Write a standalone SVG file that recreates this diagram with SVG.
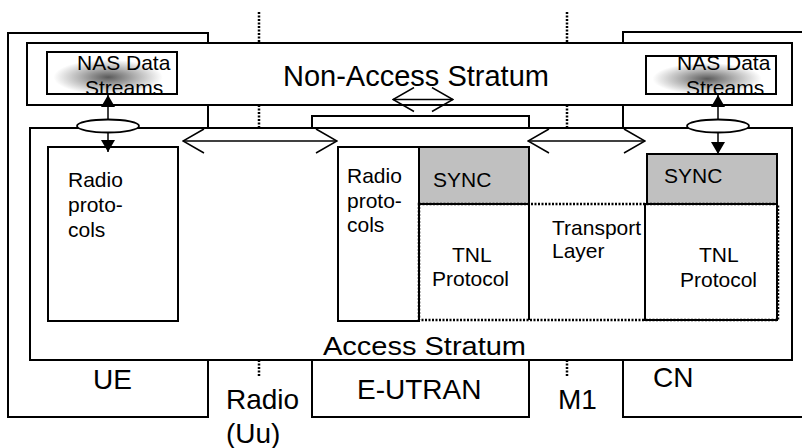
<svg xmlns="http://www.w3.org/2000/svg" width="802" height="448" viewBox="0 0 802 448">
<defs>
<style>
.box{fill:#fff;stroke:#000;stroke-width:2}
.out{fill:none;stroke:#000;stroke-width:2}
.grey{fill:#c0c0c0;stroke:#000;stroke-width:2}
.dot{fill:none;stroke:#000;stroke-width:2.5;stroke-dasharray:2,1.5}
.ln{fill:none;stroke:#000;stroke-width:1.5}
text{font-family:"Liberation Sans",Arial,sans-serif;fill:#000}
.t28{font-size:28px}
.t21{font-size:21px}
</style>
<radialGradient id="nasgrad" cx="0.47" cy="0.6" r="0.42">
<stop offset="0" stop-color="#5a5a5a"/>
<stop offset="0.5" stop-color="#b0b0b0"/>
<stop offset="1" stop-color="#fff"/>
</radialGradient>
<marker id="tri" viewBox="0 0 12 14" refX="12" refY="7" markerWidth="13" markerHeight="14" markerUnits="userSpaceOnUse" orient="auto-start-reverse">
<path d="M0,0 L12,7 L0,14 z" fill="#000"/>
</marker>
<marker id="chev" viewBox="0 0 23 26" refX="22" refY="13" markerWidth="23" markerHeight="26" markerUnits="userSpaceOnUse" orient="auto-start-reverse">
<path d="M1,1 L22,13 L1,25" fill="none" stroke="#000" stroke-width="1.5"/>
</marker>
</defs>

<g id="dividers">
<line class="dot" x1="259" y1="12" x2="259" y2="43"/>
<line class="dot" x1="567" y1="12" x2="567" y2="43"/>
<line class="dot" x1="259" y1="105" x2="259" y2="128"/>
<line class="dot" x1="567" y1="105" x2="567" y2="128"/>
<line class="dot" x1="259" y1="360" x2="259" y2="377"/>
<line class="dot" x1="567" y1="360" x2="567" y2="377"/>
</g>

<g id="ue">
<rect class="box" x="8" y="33" width="200" height="384"/>
<text class="t28" x="93" y="389">UE</text>
</g>
<g id="cn">
<rect class="box" x="623" y="32" width="185" height="385"/>
<text class="t28" x="653" y="387">CN</text>
</g>
<g id="eutran">
<rect class="box" x="312" y="360" width="217" height="57"/>
<text class="t28" x="357" y="399">E-UTRAN</text>
</g>
<g id="radio-uu">
<text class="t28" x="226" y="409">Radio</text>
<text class="t28" x="226" y="443">(Uu)</text>
</g>
<g id="m1">
<text class="t28" x="558" y="409">M1</text>
</g>

<g id="nas">
<rect class="box" x="27" y="43" width="765" height="62"/>
<text x="283" y="86" style="font-size:29px">Non-Access Stratum</text>
</g>
<g id="nas-ue">
<rect x="47" y="52" width="130" height="42" fill="url(#nasgrad)" stroke="#000" stroke-width="2"/>
<text class="t21" x="77" y="70">NAS Data</text>
<text class="t21" x="85" y="95">Streams</text>
</g>
<g id="nas-cn">
<rect x="646" y="56" width="130" height="38" fill="url(#nasgrad)" stroke="#000" stroke-width="2"/>
<text class="t21" x="677" y="70">NAS Data</text>
<text class="t21" x="686" y="95">Streams</text>
</g>

<g id="bar">
<rect class="box" x="312" y="116" width="217" height="12"/>
</g>

<g id="as">
<rect class="box" x="30" y="128" width="762" height="232"/>
<text x="323" y="355" style="font-size:26px" textLength="203" lengthAdjust="spacingAndGlyphs">Access Stratum</text>
</g>

<g id="radio-ue">
<rect class="box" x="48" y="147" width="130" height="174"/>
<text class="t21" x="68" y="187">Radio</text>
<text class="t21" x="68" y="212">proto-</text>
<text class="t21" x="68" y="237">cols</text>
</g>
<g id="radio-eutran">
<rect class="box" x="338" y="147" width="81" height="174"/>
<text class="t21" x="347" y="183">Radio</text>
<text class="t21" x="347" y="208">proto-</text>
<text class="t21" x="347" y="232">cols</text>
</g>
<g id="sync-eutran">
<rect class="grey" x="419" y="147" width="110" height="57"/>
<text class="t21" x="433" y="187">SYNC</text>
</g>
<g id="tnl-eutran">
<line class="out" x1="529" y1="204" x2="529" y2="320"/>
<text class="t21" x="452" y="262">TNL</text>
<text class="t21" x="432" y="286">Protocol</text>
</g>
<g id="sync-cn">
<rect class="grey" x="647" y="154" width="130" height="50"/>
<text class="t21" x="664" y="183">SYNC</text>
</g>
<g id="tnl-cn">
<rect class="box" x="645" y="204" width="132" height="116"/>
<text class="t21" x="699" y="262">TNL</text>
<text class="t21" x="680" y="287">Protocol</text>
</g>
<g id="transport">
<rect class="dot" x="419" y="204" width="359" height="116"/>
<text class="t21" x="552" y="235">Transport</text>
<text class="t21" x="552" y="258">Layer</text>
</g>

<g id="connectors">
<line class="ln" x1="108" y1="95" x2="108" y2="152" marker-start="url(#tri)" marker-end="url(#tri)"/>
<line class="ln" x1="718" y1="95" x2="718" y2="154" marker-start="url(#tri)" marker-end="url(#tri)"/>
<ellipse cx="108" cy="126" rx="31" ry="6.5" fill="#fff" stroke="#000" stroke-width="1.8"/>
<ellipse cx="718" cy="126" rx="31" ry="6.5" fill="#fff" stroke="#000" stroke-width="1.8"/>
<line class="ln" x1="393" y1="99.5" x2="453" y2="99.5" marker-start="url(#chev)" marker-end="url(#chev)"/>
<line class="ln" x1="183" y1="141" x2="337" y2="141" marker-start="url(#chev)" marker-end="url(#chev)"/>
<line class="ln" x1="528" y1="141" x2="645" y2="141" marker-start="url(#chev)" marker-end="url(#chev)"/>
</g>
</svg>
